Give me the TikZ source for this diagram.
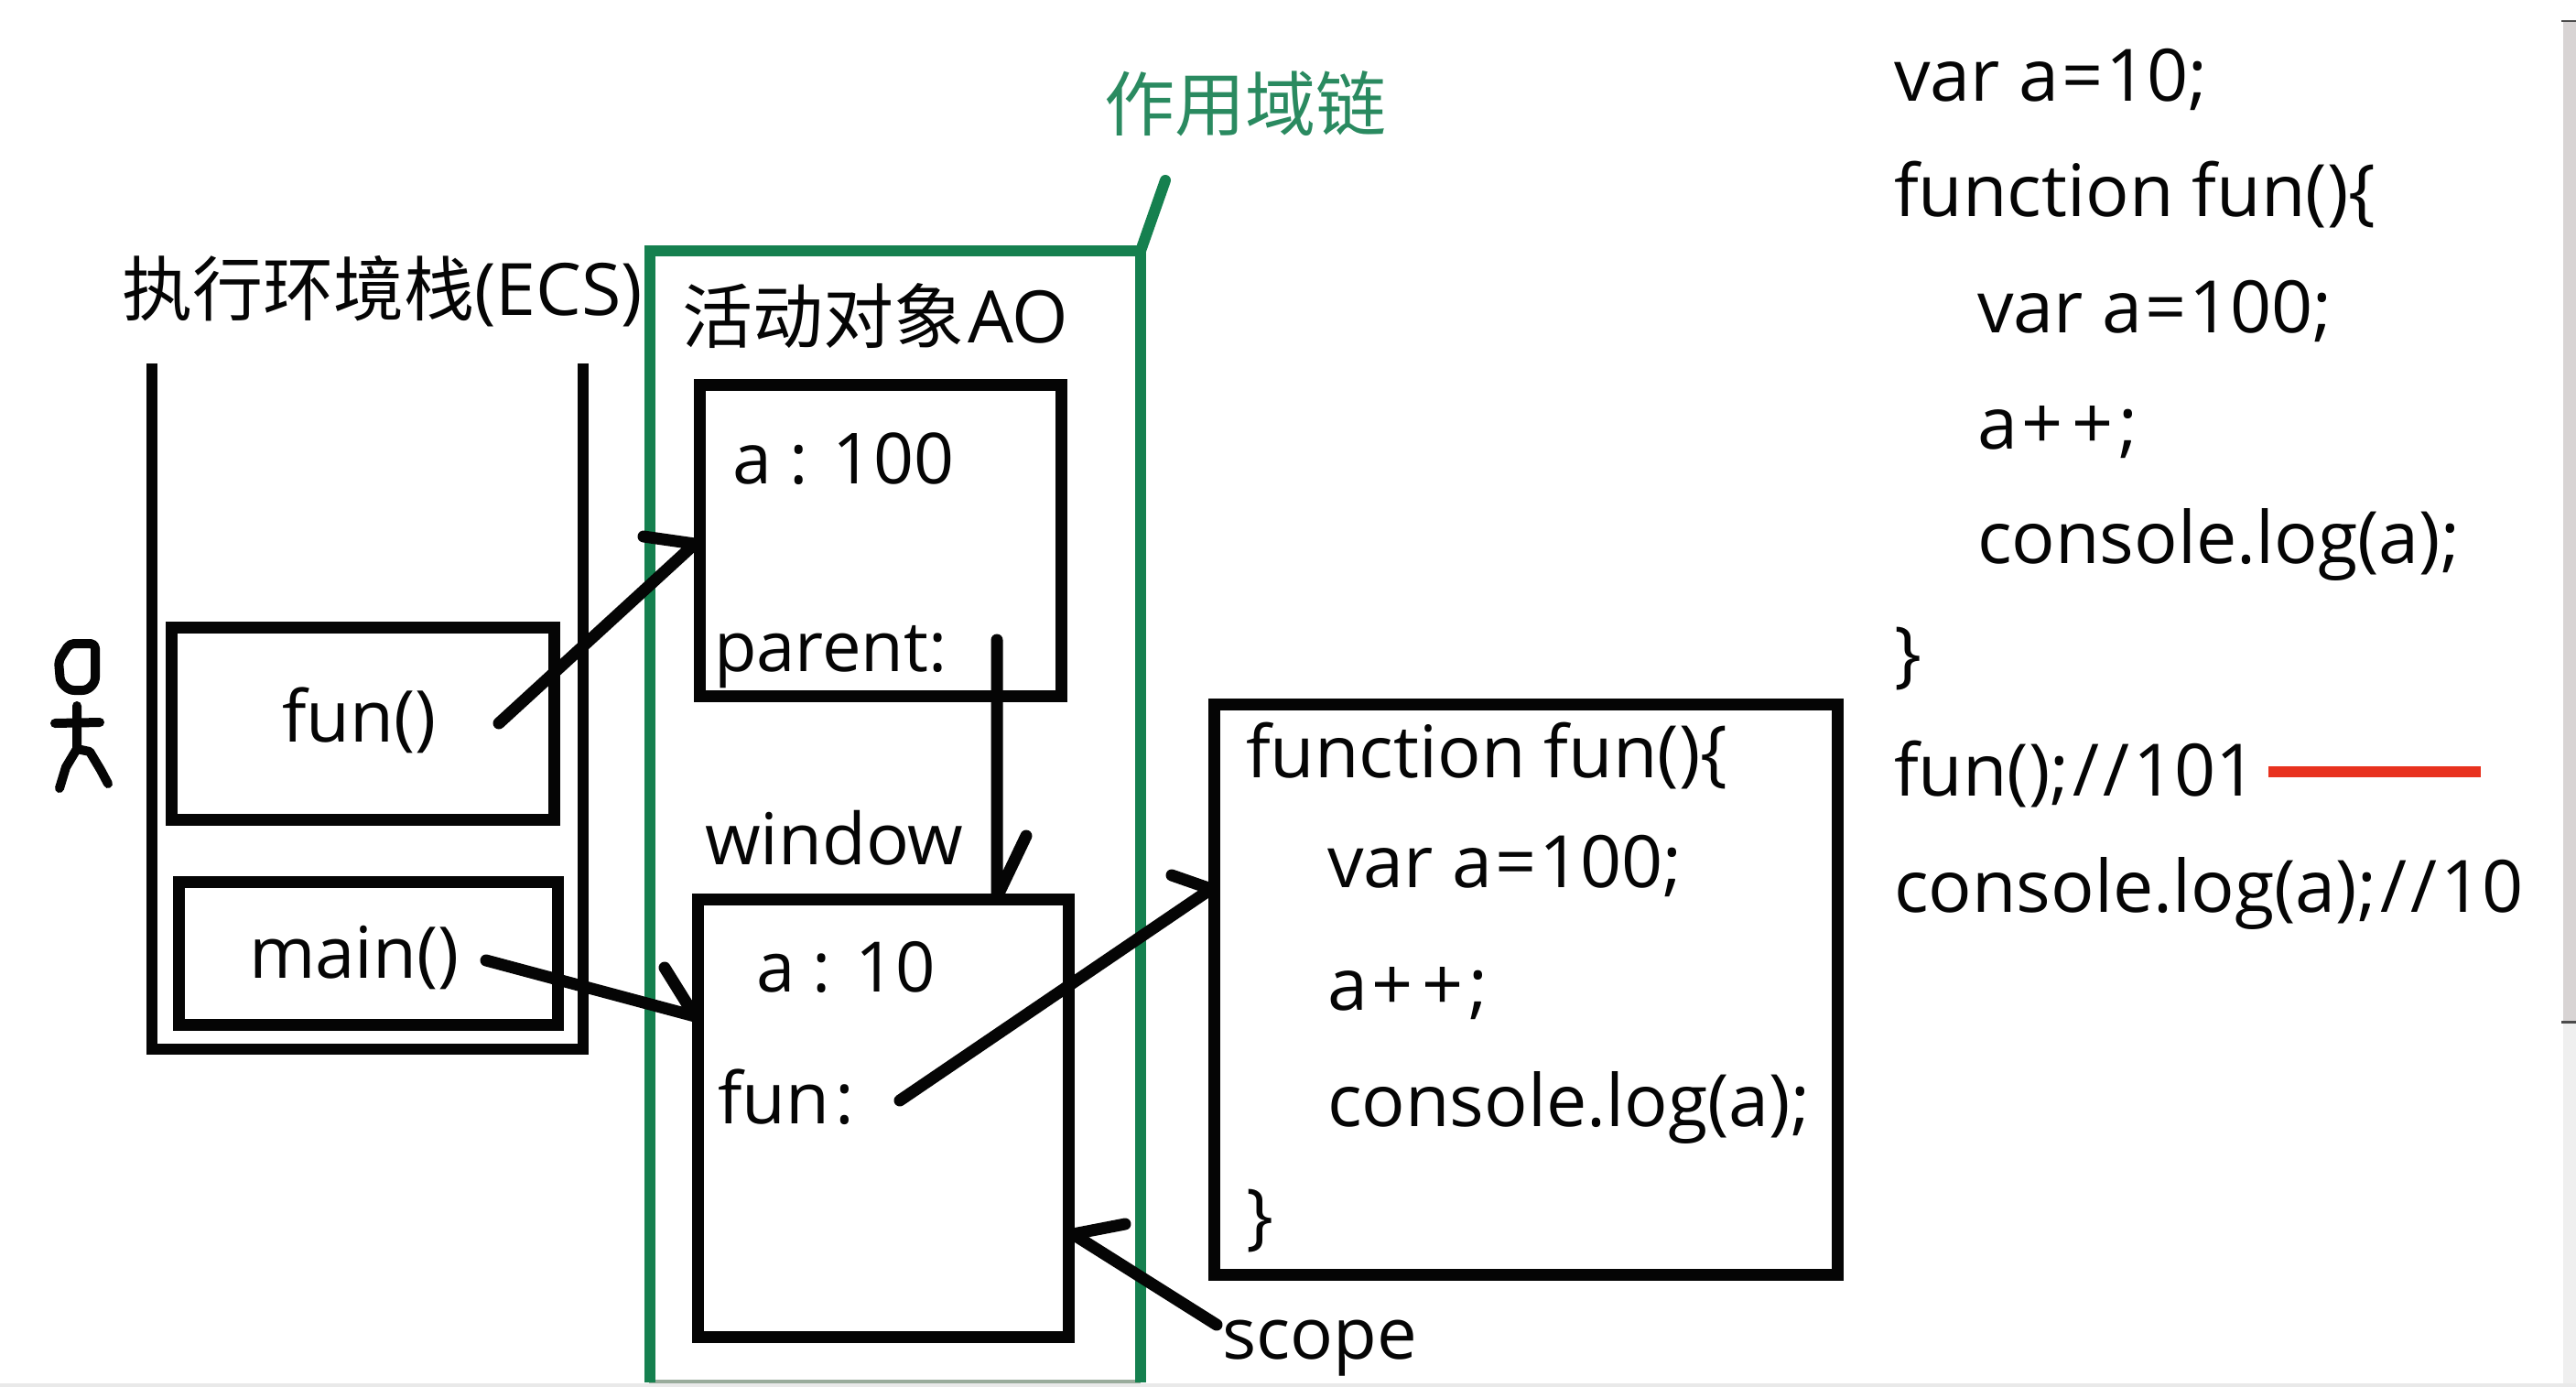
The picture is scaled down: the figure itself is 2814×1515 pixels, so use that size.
\documentclass[tikz,border=0pt]{standalone}
\usepackage{fontspec}
\setmainfont{Open Sans}
\newfontfamily\cjk{Noto Sans CJK SC}
\definecolor{chain}{HTML}{15804F}
\definecolor{chaintext}{HTML}{2A8A60}
\definecolor{redline}{HTML}{E8321E}
\definecolor{ink}{HTML}{050505}
\definecolor{edge}{HTML}{E9E9E9}
\definecolor{chainedge}{HTML}{9AAC9C}
\definecolor{scrolldark}{HTML}{D8D4D4}
\definecolor{scrolllight}{HTML}{EFEFEF}
\newcommand{\eqk}{\kern3pt=\kern3pt}
\newcommand{\plk}{\kern5pt+\kern9pt+\kern6pt}
\newcommand{\slk}{\kern4pt/\kern4pt/\kern4pt}
\newcommand{\lat}[1]{{\rmfamily\fontsize{79}{90}\selectfont #1}}
\tikzset{
  box/.style={draw=ink,line width=13pt,minimum width=#1,inner sep=0pt,outer sep=0pt,rectangle},
  lbl/.style={anchor=base west,inner sep=0pt,outer sep=0pt,text=ink,font=\fontsize{78}{90}\selectfont},
  code/.style={anchor=base west,inner sep=0pt,outer sep=0pt,text=ink,font=\fontsize{79}{90}\selectfont},
  cjktxt/.style={anchor=base west,inner sep=0pt,outer sep=0pt,text=ink,font=\cjk\fontsize{77}{90}\selectfont},
  wire/.style={draw=ink,line width=13pt,line cap=round,line join=round},
  person/.style={draw=ink,line width=10pt,line cap=round,line join=round},
  chainline/.style={draw=chain,line width=12pt,line join=miter}
}
\begin{document}
\begin{tikzpicture}[x=1pt,y=-1pt]
\useasboundingbox[fill=white] (0,0) rectangle (2814,1515);
% screenshot edge and scroll bar
\fill[edge] (0,1511) rectangle (2814,1515);
\fill[scrolllight] (2800,1116) rectangle (2814,1511);
\fill[scrolldark] (2800,24) rectangle (2814,1116);
\fill[black!70] (2798,1115) rectangle (2814,1118);
\fill[black!70] (2798,22) rectangle (2814,24);
\fill[chainedge] (709,1507) rectangle (1246,1511);
% stack
\coordinate (stl) at (166,397);
\coordinate (sbl) at (166,1146);
\coordinate (sbr) at (637,1146);
\coordinate (str) at (637,397);
\draw[wire,line width=12pt,line cap=butt,line join=miter] (stl) -- (sbl) -- (sbr) -- (str);
\node[box=418pt,minimum height=210pt] (funbox) at (396,790) {};
\node[box=414pt,minimum height=156pt] (mainbox) at (402,1041) {};
% chain frame
\coordinate (cbl) at (709.5,1510);
\coordinate (ctl) at (709.5,274);
\coordinate (ctr) at (1246,274);
\coordinate (cbr) at (1246,1510);
\coordinate (ctail) at (1273,197);
\draw[chainline] (cbl) -- (ctl) -- (ctr) -- (cbr);
\draw[chainline,line cap=round] (ctr) -- (ctail);
% boxes
\node[box=395pt,minimum height=340pt] (aobox) at (961.5,590) {};
\node[box=405pt,minimum height=478pt] (winbox) at (964.5,1221) {};
\node[box=681pt,minimum height=623pt] (fnbox) at (1666.5,1080.5) {};
% labels
\node[cjktxt] (ecs) at (133,344) {执行环境栈\lat{(ECS)}};
\node[cjktxt] (ao) at (745,374) {活动对象\kern4pt\lat{AO}};
\node[cjktxt,text=chaintext] (chainlabel) at (1206,142) {作用域链};
\node[lbl] (fun) at (308,810) {fun()};
\node[lbl] (main) at (272,1068) {main()};
\node[lbl,font=\fontsize{77}{90}\selectfont] (a100) at (800,528) {a : 100};
\node[lbl,font=\fontsize{76}{90}\selectfont] (parent) at (780,733) {parent:};
\node[lbl] (window) at (770,944) {window};
\node[lbl,font=\fontsize{76}{90}\selectfont] (a10) at (826,1083) {a : 10};
\node[lbl] (funkey) at (784,1227) {fun\kern6pt:};
\node[code] (f1) at (1361,849) {function fun()\{};
\node[code] (f2) at (1450,969) {var a\eqk100;};
\node[code] (f3) at (1450,1103) {a\plk;};
\node[code] (f4) at (1450,1230) {console.log(a);};
\node[code] (f5) at (1361,1355) {\}};
\node[lbl] (scope) at (1335,1484) {scope};
\node[code] (c1) at (2069,110) {var a\eqk10;};
\node[code] (c2) at (2069,236) {function fun()\{};
\node[code] (c3) at (2160,363) {var a\eqk100;};
\node[code] (c4) at (2160,490) {a\plk;};
\node[code] (c5) at (2160,615) {console.log(a);};
\node[code] (c6) at (2069,741) {\}};
\node[code] (c7) at (2069,869) {fun();\slk101};
\node[code] (c8) at (2069,996) {console.log(a);\slk10};
% red line
\coordinate (ra) at (2478,843);
\coordinate (rb) at (2710,843);
\draw[draw=redline,line width=12pt,line cap=butt] (ra) -- (rb);
% arrows
\coordinate (a1s) at (545,790); \coordinate (a1e) at (759,594); \coordinate (a1b) at (703,586);
\draw[wire] (a1s) -- (a1e) -- (a1b);
\coordinate (a2s) at (531,1049); \coordinate (a2e) at (759,1110); \coordinate (a2b) at (726,1057);
\draw[wire] (a2s) -- (a2e) -- (a2b);
\coordinate (a3s) at (1089,699); \coordinate (a3e) at (1089,980); \coordinate (a3b) at (1121,913);
\draw[wire] (a3s) -- (a3e) -- (a3b);
\coordinate (a4s) at (983,1202); \coordinate (a4e) at (1323,971); \coordinate (a4b) at (1280,956);
\draw[wire] (a4s) -- (a4e) -- (a4b);
\coordinate (a5s) at (1329,1447); \coordinate (a5e) at (1172,1348); \coordinate (a5b) at (1229,1337);
\draw[wire] (a5s) -- (a5e) -- (a5b);
% stick figure
\draw[person,rounded corners=5pt] (104,703) -- (76,703) -- (64,722) -- (66,745) -- (76,754) -- (95,754) -- (104,745) -- cycle;
\coordinate (pa) at (60,790); \coordinate (pb) at (109,789);
\coordinate (pn) at (84,771); \coordinate (pw) at (84,818);
\coordinate (pk) at (72,838); \coordinate (pl) at (65,861);
\coordinate (pq) at (98,821); \coordinate (pj) at (110,841); \coordinate (pr) at (118,856);
\draw[person] (pa) -- (pb);
\draw[person] (pn) -- (pw) -- (pk) -- (pl);
\draw[person] (pw) -- (pq) -- (pj) -- (pr);
\end{tikzpicture}
\end{document}
